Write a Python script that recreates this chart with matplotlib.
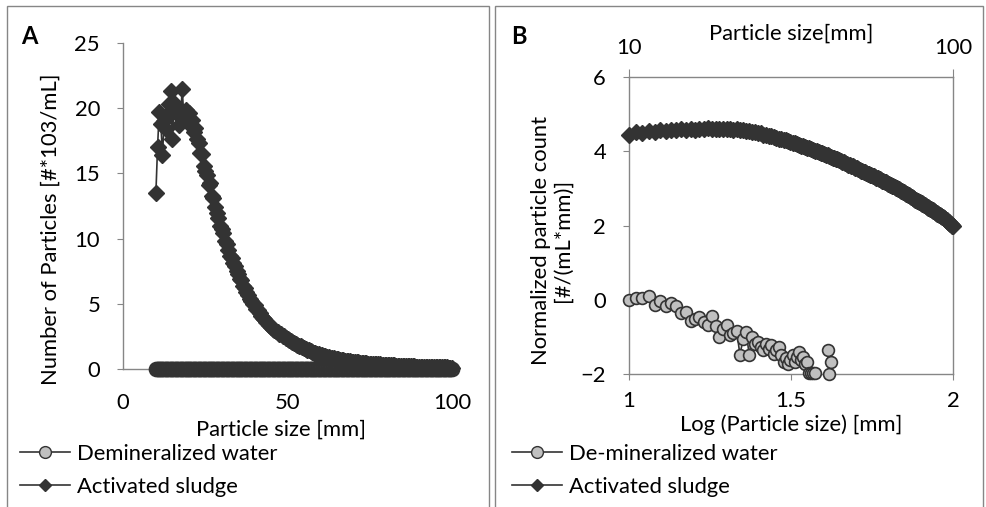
import numpy as np
import matplotlib.pyplot as plt
from matplotlib.lines import Line2D
from matplotlib.patches import Rectangle
from matplotlib.ticker import FixedLocator, NullLocator, FixedFormatter

plt.rcParams['font.family'] = ['Lato', 'DejaVu Sans']

#%% data

# particle size bins [mm], 0.5 mm steps from 10 to 100
sizes = np.arange(10.0, 100.5, 0.5)

# Panel A: activated sludge, number of particles [#*10^3/mL]
sludge_count = [
    13.5, 17.0, 19.7, 18.8, 16.4, 19.0, 18.4, 19.5, 20.3, 21.3,
    17.6, 20.4, 19.6, 20.1, 18.7, 19.4, 21.5, 19.3, 19.9, 19.6,
    19.6, 18.7, 19.1, 18.2, 18.5, 17.6, 17.3, 16.6, 16.5, 15.6,
    15.2, 14.9, 14.1, 14.3, 13.3, 13.1, 12.4, 12.0, 11.6, 11.0,
    10.7, 10.4, 9.8, 9.6, 9.1, 8.7, 8.5, 8.1, 7.9, 7.5,
    7.3, 6.9, 6.8, 6.4, 6.2, 5.9, 5.7, 5.4, 5.2, 5.0,
    4.9, 4.6, 4.5, 4.3, 4.1, 3.9, 3.8, 3.6, 3.5, 3.35,
    3.2, 3.1, 3.0, 2.9, 2.8, 2.7, 2.65, 2.55, 2.5, 2.4,
    2.3, 2.22, 2.15, 2.08, 2.0, 1.93, 1.86, 1.8, 1.73, 1.67,
    1.6, 1.55, 1.48, 1.42, 1.36, 1.31, 1.26, 1.21, 1.16, 1.12,
    1.08, 1.04, 1.0, 0.96, 0.93, 0.9, 0.87, 0.84, 0.81, 0.78,
    0.76, 0.73, 0.71, 0.68, 0.66, 0.64, 0.62, 0.6, 0.58, 0.56,
    0.55, 0.53, 0.52, 0.5, 0.49, 0.47, 0.46, 0.45, 0.43, 0.42,
    0.41, 0.4, 0.39, 0.38, 0.37, 0.36, 0.35, 0.34, 0.33, 0.32,
    0.31, 0.3, 0.29, 0.29, 0.28, 0.27, 0.26, 0.26, 0.25, 0.24,
    0.24, 0.23, 0.22, 0.22, 0.21, 0.21, 0.2, 0.2, 0.19, 0.19,
    0.18, 0.18, 0.17, 0.17, 0.16, 0.16, 0.16, 0.15, 0.15, 0.14,
    0.14, 0.14, 0.13, 0.13, 0.13, 0.12, 0.12, 0.12, 0.11, 0.11,
    0.11,
]

# Panel B: activated sludge, normalized particle count (log) [#/(mL*mm)]
sludge_norm = [
    4.45, 4.51, 4.49, 4.55, 4.53, 4.57, 4.55, 4.58, 4.56, 4.59,
    4.57, 4.60, 4.58, 4.61, 4.59, 4.62, 4.60, 4.61, 4.59, 4.61,
    4.59, 4.60, 4.58, 4.59, 4.56, 4.57, 4.54, 4.54, 4.51, 4.51,
    4.48, 4.48, 4.45, 4.44, 4.42, 4.41, 4.38, 4.37, 4.34, 4.33,
    4.31, 4.29, 4.27, 4.26, 4.23, 4.22, 4.19, 4.18, 4.15, 4.14,
    4.12, 4.10, 4.08, 4.06, 4.04, 4.02, 4.00, 3.98, 3.96, 3.94,
    3.92, 3.91, 3.89, 3.87, 3.85, 3.83, 3.82, 3.80, 3.78, 3.76,
    3.74, 3.72, 3.70, 3.68, 3.66, 3.64, 3.63, 3.61, 3.59, 3.57,
    3.55, 3.54, 3.52, 3.50, 3.48, 3.47, 3.45, 3.43, 3.42, 3.40,
    3.38, 3.37, 3.35, 3.34, 3.32, 3.30, 3.29, 3.27, 3.25, 3.24,
    3.22, 3.21, 3.19, 3.18, 3.16, 3.15, 3.13, 3.12, 3.10, 3.09,
    3.07, 3.06, 3.04, 3.02, 3.01, 2.99, 2.97, 2.96, 2.94, 2.92,
    2.90, 2.89, 2.87, 2.85, 2.84, 2.82, 2.81, 2.79, 2.77, 2.76,
    2.74, 2.73, 2.71, 2.70, 2.68, 2.67, 2.65, 2.64, 2.62, 2.61,
    2.60, 2.58, 2.57, 2.55, 2.54, 2.52, 2.51, 2.49, 2.48, 2.47,
    2.45, 2.44, 2.42, 2.41, 2.39, 2.38, 2.36, 2.35, 2.34, 2.32,
    2.31, 2.29, 2.28, 2.26, 2.25, 2.23, 2.22, 2.20, 2.19, 2.17,
    2.15, 2.14, 2.12, 2.10, 2.09, 2.07, 2.05, 2.03, 2.02, 2.00,
    1.98,
]

# Panel B: de-mineralized water, normalized particle count (log), 10 - 42 mm
nan = np.nan
water_norm = [
    0.00, 0.04, 0.06, 0.09, -0.13, -0.03, -0.16, -0.08, -0.16, -0.36,
    -0.34, -0.56, -0.52, -0.46, -0.60, -0.69, -0.45, -0.72, -1.00, -0.78,
    -0.69, -0.96, -0.90, -0.83, -1.49, -1.05, -0.87, -1.49, -1.00, -1.20,
    -1.14, -1.27, -1.36, -1.18, -1.32, -1.22, -1.45, -1.36, -1.27, -1.49,
    -1.67, -1.58, -1.72, -1.62, -1.49, -1.67, -1.54, -1.40, -1.62, -1.54,
    -1.72, -1.67, -1.98, -1.98, -1.98, -1.98, nan, nan, nan, nan,
    nan, nan, -1.36, -2.00, -1.67,
]

# Panel A: de-mineralized water in #*10^3/mL (bin width 0.5 mm), zero above 42 mm
water_count = np.zeros(len(sizes))
water_count[:len(water_norm)] = np.nan_to_num(10 ** np.array(water_norm) * 0.5 / 1000)

#%% styles

W, H = 986, 507
grey = '#868686'
dark = '#333333'
light = '#c0c0c0'
fs = 15.8

def rect(l, t, r, b):
    return [l / W, 1 - b / H, (r - l) / W, (b - t) / H]

fig = plt.figure(figsize=(W / 100, H / 100), dpi=100)

# panel frames
for l, r in [(7, 489), (495, 983)]:
    fig.patches.append(Rectangle((l / W, -0.05), (r - l) / W, 1.05 - 6 / H,
                                 transform=fig.transFigure, fill=False,
                                 edgecolor=grey, lw=1.0))

#%% Panel A
axA = fig.add_axes(rect(123, 43, 452, 369))
axA.plot(sizes, water_count, '-o', color=dark, lw=1.2, ms=9.5,
         mfc=light, mec=dark, mew=1.8, clip_on=False, zorder=3)
axA.plot(sizes, sludge_count, '-D', color=dark, lw=1.2, ms=8.5,
         mfc=dark, mec=dark, clip_on=False, zorder=4)
axA.set_xlim(0, 100)
axA.set_ylim(0, 25)
axA.set_xticks([0, 50, 100])
axA.set_yticks([0, 5, 10, 15, 20, 25])
for s in ['top', 'right']:
    axA.spines[s].set_visible(False)
for s in ['left', 'bottom']:
    axA.spines[s].set_color(grey)
    axA.spines[s].set_linewidth(1.0)
axA.tick_params(axis='x', length=0, pad=17, labelsize=fs)
axA.tick_params(axis='y', length=4.5, color=grey, pad=12, labelsize=fs)
axA.set_xlabel('Particle size [mm]', fontsize=fs)
axA.xaxis.set_label_coords(0.48, -0.155)
axA.set_ylabel('Number of Particles [#*103/mL]', fontsize=fs)
axA.yaxis.set_label_coords(-0.19, 0.43)
fig.text(21 / W, 1 - 36 / H, 'A', fontsize=17, fontweight='bold', va='center')

#%% Panel B
axB = fig.add_axes(rect(629, 77, 953, 374))
axB.plot(np.log10(sizes[:len(water_norm)]), water_norm, '-o', color=dark,
         lw=1.2, ms=8.5, mfc=light, mec=dark, mew=1.2, clip_on=False, zorder=3)
axB.plot(np.log10(sizes), sludge_norm, '-D', color=dark, lw=1.2, ms=8,
         mfc=dark, mec=dark, clip_on=False, zorder=4)
axB.set_xlim(1, 2)
axB.set_ylim(-2, 6)
axB.set_xticks([1, 1.5, 2])
axB.set_xticklabels(['1', '1.5', '2'])
axB.set_yticks([-2, 0, 2, 4, 6])
for s in axB.spines.values():
    s.set_color(grey)
    s.set_linewidth(1.0)
axB.tick_params(length=4.5, color=grey, pad=8, labelsize=fs, axis='x')
axB.tick_params(length=4.5, color=grey, pad=12, labelsize=fs, axis='y')
axB.set_xlabel('Log (Particle size) [mm]', fontsize=fs)
axB.xaxis.set_label_coords(0.5, -0.135)
axB.set_ylabel('Normalized particle count\n[#/(mL*mm)]', fontsize=fs,
               linespacing=1.1)
axB.yaxis.set_label_coords(-0.173, 0.45)

top = axB.twiny()
top.set_xscale('log')
top.set_xlim(10, 100)
top.xaxis.set_major_locator(FixedLocator([10, 100]))
top.xaxis.set_major_formatter(FixedFormatter(['10', '100']))
top.xaxis.set_minor_locator(NullLocator())
top.tick_params(axis='x', length=6, color=grey, pad=8, labelsize=fs)
for s in top.spines.values():
    s.set_visible(False)
top.set_xlabel('Particle size[mm]', fontsize=fs)
top.xaxis.set_label_coords(0.5, 1.125)
fig.text(511 / W, 1 - 37 / H, 'B', fontsize=17, fontweight='bold', va='center')

#%% legends
def legend_handles():
    h1 = Line2D([], [], color=dark, lw=1.2, marker='o', ms=8.5, mfc=light,
                mec=dark, mew=1.0)
    h2 = Line2D([], [], color=dark, lw=1.2, marker='D', ms=6.5, mfc=dark,
                mec=dark)
    return h1, h2

for x0, lab in [(20, 'Demineralized water'), (512, 'De-mineralized water')]:
    h1, h2 = legend_handles()
    fig.legend([h1, h2], [lab, 'Activated sludge'], loc='upper left',
               bbox_to_anchor=(x0 / W, 1 - 444 / H), frameon=False,
               fontsize=fs, handlelength=2.3, handletextpad=0.3,
               labelspacing=0.6, borderpad=0, borderaxespad=0)

fig.savefig('out.png', dpi=100)
